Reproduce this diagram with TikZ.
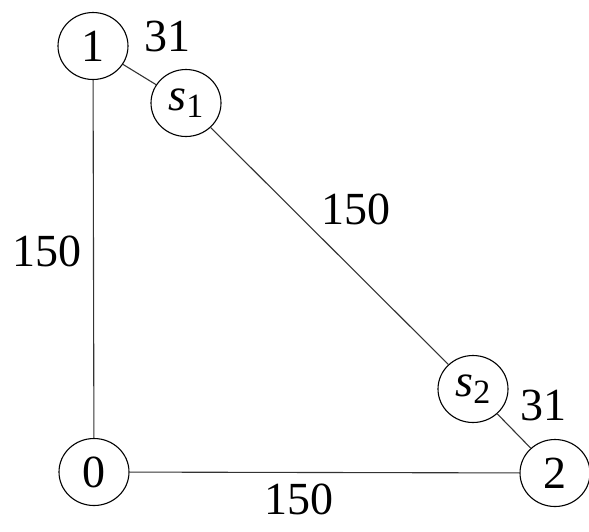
\documentclass[tikz,border=0pt]{standalone}
\usepackage{fontspec}
\setmainfont{Liberation Serif}
\usetikzlibrary{shapes.geometric}
\newcommand{\subidx}[1]{\raisebox{-0.32ex}{\fontsize{34}{36}\selectfont #1}}
\begin{document}
\begin{tikzpicture}[x=1pt,y=-1pt,
  vertex/.style={draw, ellipse, line width=1.1pt, minimum width=70pt, minimum height=67pt, inner sep=0pt, font=\rmfamily\fontsize{46}{50}\selectfont},
  edge/.style={line width=1.1pt, draw=black!80},
  weight/.style={font=\rmfamily\fontsize{46}{50}\selectfont, inner sep=0pt}]
\useasboundingbox (0,0) rectangle (589,531);
\node[vertex] (n1) at (93,46) {1};
\node[vertex] (n0) at (94,472) {0};
\node[vertex] (n2) at (555,473) {2};
\node[vertex] (s1) at (186,103) {\textit{s}\subidx{1}};
\node[vertex] (s2) at (473,389) {\textit{s}\subidx{2}};
\draw[edge] (n1) -- (n0);
\draw[edge] (n0) -- (n2);
\draw[edge] (n1) -- (s1);
\draw[edge] (s1) -- (s2);
\draw[edge] (s2) -- (n2);
\node[weight] (w1) at (167,36) {31};
\node[weight] (w2) at (543,405) {31};
\node[weight] (w3) at (47,251) {150};
\node[weight] (w4) at (356,209) {150};
\node[weight] (w5) at (299,499) {150};
\end{tikzpicture}
\end{document}
